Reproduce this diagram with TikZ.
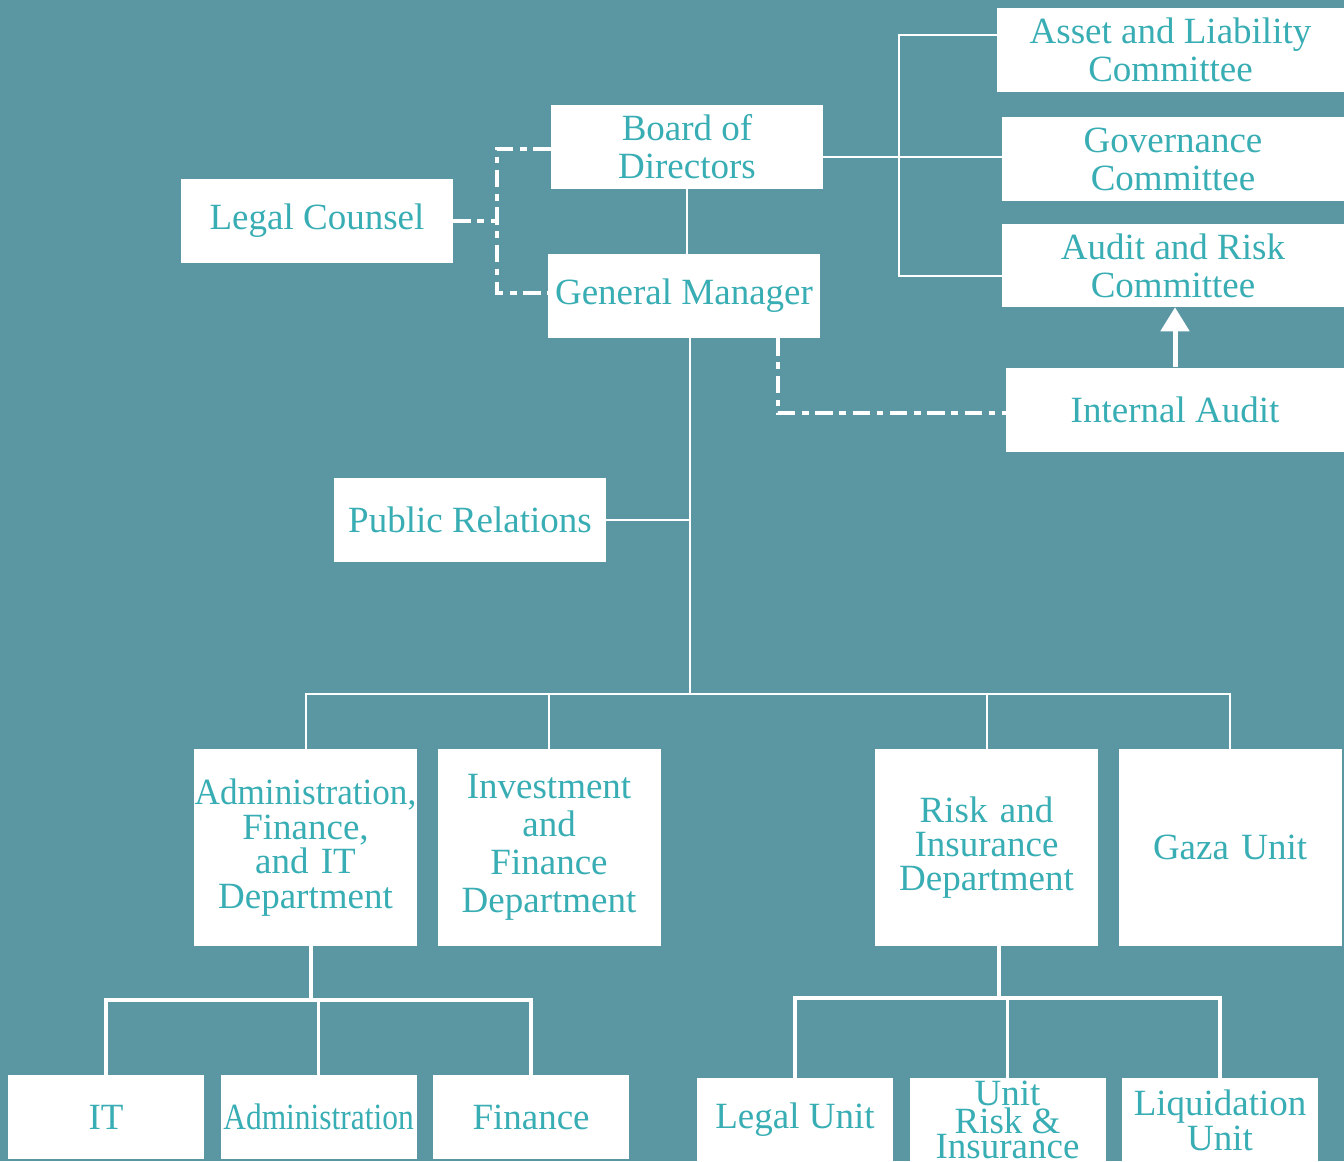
\documentclass[tikz,border=0pt]{standalone}
\usepackage{fontspec}
\setmainfont{Liberation Serif}
\usetikzlibrary{arrows.meta, positioning}
\definecolor{orgback}{HTML}{5B96A3}
\definecolor{orgtext}{HTML}{38AEB4}
\newlength\px
\setlength\px{0.75pt}
\tikzset{
  unit/.style={fill=white, text=orgtext, align=center, inner sep=0pt,
               font=\fontsize{27.75}{28.5}\selectfont},
  widebox/.style={unit, minimum width=272\px, minimum height=84\px},
  combox/.style={unit, minimum width=342\px, minimum height=84\px},
  deptbox/.style={unit, text width=223\px, minimum height=197\px},
  smallbox/.style={unit, minimum width=196\px, minimum height=84\px},
  link/.style={draw=white, line width=1.5pt},
  boldlink/.style={draw=white, line width=2.6pt},
  dashlink/.style={draw=white, line width=3pt, dash pattern=on 13pt off 5pt on 5pt off 5pt},
  uplink/.style={draw=white, line width=3.75pt, -{Triangle[length=18pt, width=21pt]}},
}
\begin{document}
\begin{tikzpicture}[x=0.75pt, y=-0.75pt]
  \fill[orgback] (0,0) rectangle (1344,1161);
  \useasboundingbox (0,0) rectangle (1344,1161);

  % board and committees
  \node[combox, minimum width=347\px] (alc) at (1170.5,50) {Asset and Liability\\Committee};
  \node[combox] (gov) at (1173,159) {Governance\\Committee};
  \node[combox, minimum height=83\px] (arc) at (1173,265.5) {Audit and Risk\\Committee};
  \node[widebox] (bod) at (687,147) {Board of\\Directors};
  \node[widebox] (gm) at (684,296) {\raisebox{-4\px}{General Manager}};
  \node[widebox] (lc) at (317,221) {Legal Counsel};
  \node[combox, minimum width=338\px] (ia) at (1175,409.5) {Internal Audit};
  \node[widebox] (pr) at (470,520) {Public Relations};

  % departments
  \node[deptbox, font=\fontsize{27.75}{26}\selectfont] (afit) at (305.5,847.5) {\scalebox{0.95}[1]{Administration,}\\Finance,\\and IT\\Department};
  \node[deptbox, right=20\px of afit] (ifd) {Investment\\and\\Finance\\Department};
  \node[deptbox, font=\fontsize{27.75}{25.5}\selectfont] (rid) at (986.5,847.5) {Risk and\\Insurance\\Department};
  \node[deptbox, right=20\px of rid] (gaza) {Gaza Unit};

  % units
  \node[smallbox] (it) at (106,1117) {IT};
  \node[smallbox, right=16\px of it] (adm) {\raisebox{-6\px}{\scalebox{0.85}[1]{Administration}}};
  \node[smallbox, right=16\px of adm] (fin) {Finance};
  \node[smallbox] (lu) at (795,1120) {Legal Unit};
  \node[smallbox, right=16\px of lu, font=\fontsize{27.75}{19}\selectfont] (riu) {Unit\\Risk \&\\Insurance};
  \node[smallbox, right=16\px of riu, font=\fontsize{27.75}{26}\selectfont] (liq) {Liquidation\\Unit};

  \coordinate (ctop) at (899,35);
  \coordinate (cmid) at (899,157);
  \coordinate (cbot) at (899,276);
  \coordinate (lcup) at (497,149);
  \coordinate (lcdn) at (497,293);
  \coordinate (iax) at (778,413);
  \coordinate (bus) at (690,694);
  \coordinate (lbus) at (311,1000);
  \coordinate (rbus) at (999,998);

  \draw[link] (bod.east |- cmid) -- (gov.west |- cmid);
  \draw[link] (alc.west |- ctop) -- (ctop) -- (cbot) -- (arc.west |- cbot);
  \draw[dashlink] (lc.east) -- (lc.east -| lcup);
  \draw[dashlink] (bod.west |- lcup) -- (lcup) -- (lcdn) -- (gm.west |- lcdn);
  \draw[dashlink] (gm.south -| iax) |- (ia.west |- iax);
  \draw[uplink] (ia.north) -- (ia.north |- arc.south);

  \draw[link] (bod.south) -- (bod.south |- gm.north);
  \draw[link] (gm.south -| bus) -- (bus);
  \draw[link] (pr.east) -- (pr.east -| bus);
  \draw[link] (afit.north) |- (bus) -| (gaza.north);
  \draw[link] (ifd.north) -- (ifd.north |- bus);
  \draw[link] (rid.north) -- (rid.north |- bus);

  \draw[boldlink] (afit.south -| lbus) -- (lbus);
  \draw[boldlink] (it.north) |- (lbus) -| (fin.north);
  \draw[boldlink] (adm.north) -- (adm.north |- lbus);
  \draw[boldlink] (rid.south -| rbus) -- (rbus);
  \draw[boldlink] (lu.north) |- (rbus) -| (liq.north);
  \draw[boldlink] (riu.north) -- (riu.north |- rbus);
\end{tikzpicture}
\end{document}
